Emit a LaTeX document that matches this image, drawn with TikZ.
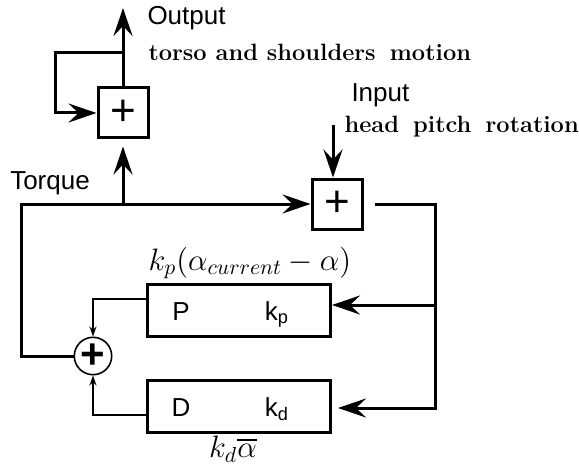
\RequirePackage{fix-cm}
\documentclass[tikz,border=0pt]{standalone}
\usepackage{amsmath}
\usepackage{fontspec}
\setsansfont{Liberation Sans}
\usepackage{tikz}
\usetikzlibrary{calc, arrows.meta}

\begin{document}
\begin{tikzpicture}[x=10pt, y=10pt, line width=1.5pt,
    bigarrow/.style={-{Stealth[length=14pt, width=9.5pt, inset=5pt]}},
    smallarrow/.style={line width=1.2pt, -{Stealth[length=5pt, width=3.5pt]}},
    sumbox/.style={draw, minimum size=25pt, inner sep=0pt, font=\fontsize{22}{22}\selectfont\sffamily},
    sumcircle/.style={draw, circle, line width=0.8pt, minimum size=18.7pt, inner sep=0pt, font=\fontsize{21}{21}\selectfont\sffamily\bfseries},
    gainbox/.style={draw, minimum width=91.5pt, minimum height=26pt},
    sans/.style={inner sep=0pt, font=\fontsize{13}{15}\selectfont\sffamily},
    boldtext/.style={inner sep=0pt, font=\fontsize{11.8}{14}\selectfont\bfseries},
    mathlabel/.style={inner sep=0pt, font=\fontsize{15.5}{18}\selectfont}]
    \useasboundingbox (0,0) rectangle (28.95,23.35);

    \node[sumbox] (sumout) at (6.15,17.7) {+};
    \node[sumbox] (sumin) at (16.85,13.15) {+};
    \node[sumcircle] (sumpd) at (4.65,5.55) {+};
    \node[gainbox] (pbox) at (11.95,7.825) {};
    \node[gainbox] (dbox) at (11.95,3.025) {};

    \node[sans, anchor=base] (ptext) at (9.05,7.35) {P};
    \node[sans, anchor=base] (kptext) at (13.85,7.35) {k\textsubscript{p}};
    \node[sans, anchor=base] (dtext) at (9.05,2.55) {D};
    \node[sans, anchor=base] (kdtext) at (13.85,2.55) {k\textsubscript{d}};

    \node[sans, anchor=west] (outlabel) at (7.3,22.45) {Output};
    \node[boldtext, anchor=west] (outdesc) at (7.35,20.75) {torso and shoulders\hspace{0.6em}motion};
    \node[sans, anchor=west] (inlabel) at (17.5,18.6) {Input};
    \node[boldtext, anchor=west] (indesc) at (17.15,17.0) {head\hspace{0.6em}pitch\hspace{0.6em}rotation};
    \node[sans] (torquelabel) at (2.5,14.2) {Torque};
    \node[mathlabel] (plaw) at (12.5,10.2) {$k_p(\alpha_{current}-\alpha)$};
    \node[mathlabel] (dlaw) at (11.65,0.9) {$k_d\overline{\alpha}$};

    \coordinate (outtip) at (6.15,22.95);
    \coordinate (loopa) at (6.15,20.7);
    \coordinate (tap) at (6.15,13.15);
    \coordinate (intop) at (16.65,17.1);
    \coordinate (pjoin) at (21.75,8.1);
    \coordinate (djoin) at (21.75,2.95);

    \draw[bigarrow] (sumout.north) -- (outtip);
    \draw[bigarrow] (loopa) -- ++(-3.4,0) |- (sumout.west);
    \draw[bigarrow] (sumpd.west) -- ++(-2.6,0) |- (sumin.west);
    \draw[bigarrow, shorten >=3.5pt] (tap) -- (sumout.south);
    \draw[bigarrow] (intop) -- (intop |- sumin.north);
    \draw[bigarrow, shorten <=5.5pt, shorten >=3pt] (sumin.east) -| (djoin) -- (djoin -| dbox.east);
    \draw[bigarrow] (pjoin) -- (pjoin -| pbox.east);
    \draw[smallarrow] ($(pbox.west)+(0,0.575)$) -| (sumpd.north);
    \draw[smallarrow] ($(dbox.west)+(0,-0.425)$) -| (sumpd.south);
\end{tikzpicture}
\end{document}
